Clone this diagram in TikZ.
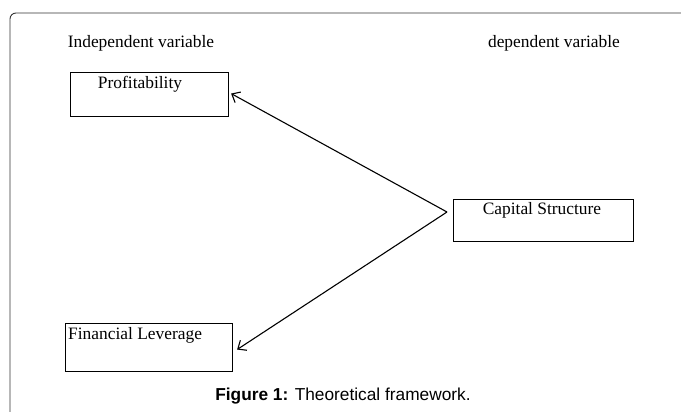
\documentclass[tikz,border=0pt]{standalone}
\usepackage{fontspec}
\setmainfont{Liberation Serif}
\newfontfamily\capfont{Liberation Sans}
\usetikzlibrary{arrows.meta}
\begin{document}
\begin{tikzpicture}[x=1pt,y=-1pt,
  box/.style={draw=black,line width=1.1pt,rectangle,inner sep=0pt,anchor=north west},
  lbl/.style={font=\fontsize{17.4}{19}\selectfont,inner sep=0pt},
  conn/.style={line width=1.1pt,-{Straight Barb[length=7pt,width=12pt,line width=1.1pt]}}]
\useasboundingbox (0,0) rectangle (681,412);
\draw[line width=0.9pt,color=black!80,rounded corners=6pt] (681,13) -- (10,13) -- (10,412);
\node[lbl] (iv) at (141,43) {Independent variable};
\node[lbl] (dv) at (554,43) {dependent variable};
\node[box,minimum width=158pt,minimum height=44pt] (prof) at (70,72) {};
\node[lbl] (proft) at (140,84) {Profitability};
\node[box,minimum width=180pt,minimum height=42pt] (cs) at (453,199) {};
\node[lbl] (cst) at (542,210) {Capital Structure};
\node[box,minimum width=167pt,minimum height=48pt] (fin) at (65,323) {};
\node[lbl,anchor=west] (fint) at (68,335) {Financial Leverage};
\coordinate (src) at (447,212);
\draw[conn] (src) -- ([xshift=2pt,yshift=1pt]prof.east);
\draw[conn] (src) -- ([xshift=4pt,yshift=-2pt]fin.east);
\node[font=\capfont\fontsize{17.3}{19}\selectfont,inner sep=0pt] (cap) at (343,396) {\textbf{Figure 1:} Theoretical framework.};
\end{tikzpicture}
\end{document}
